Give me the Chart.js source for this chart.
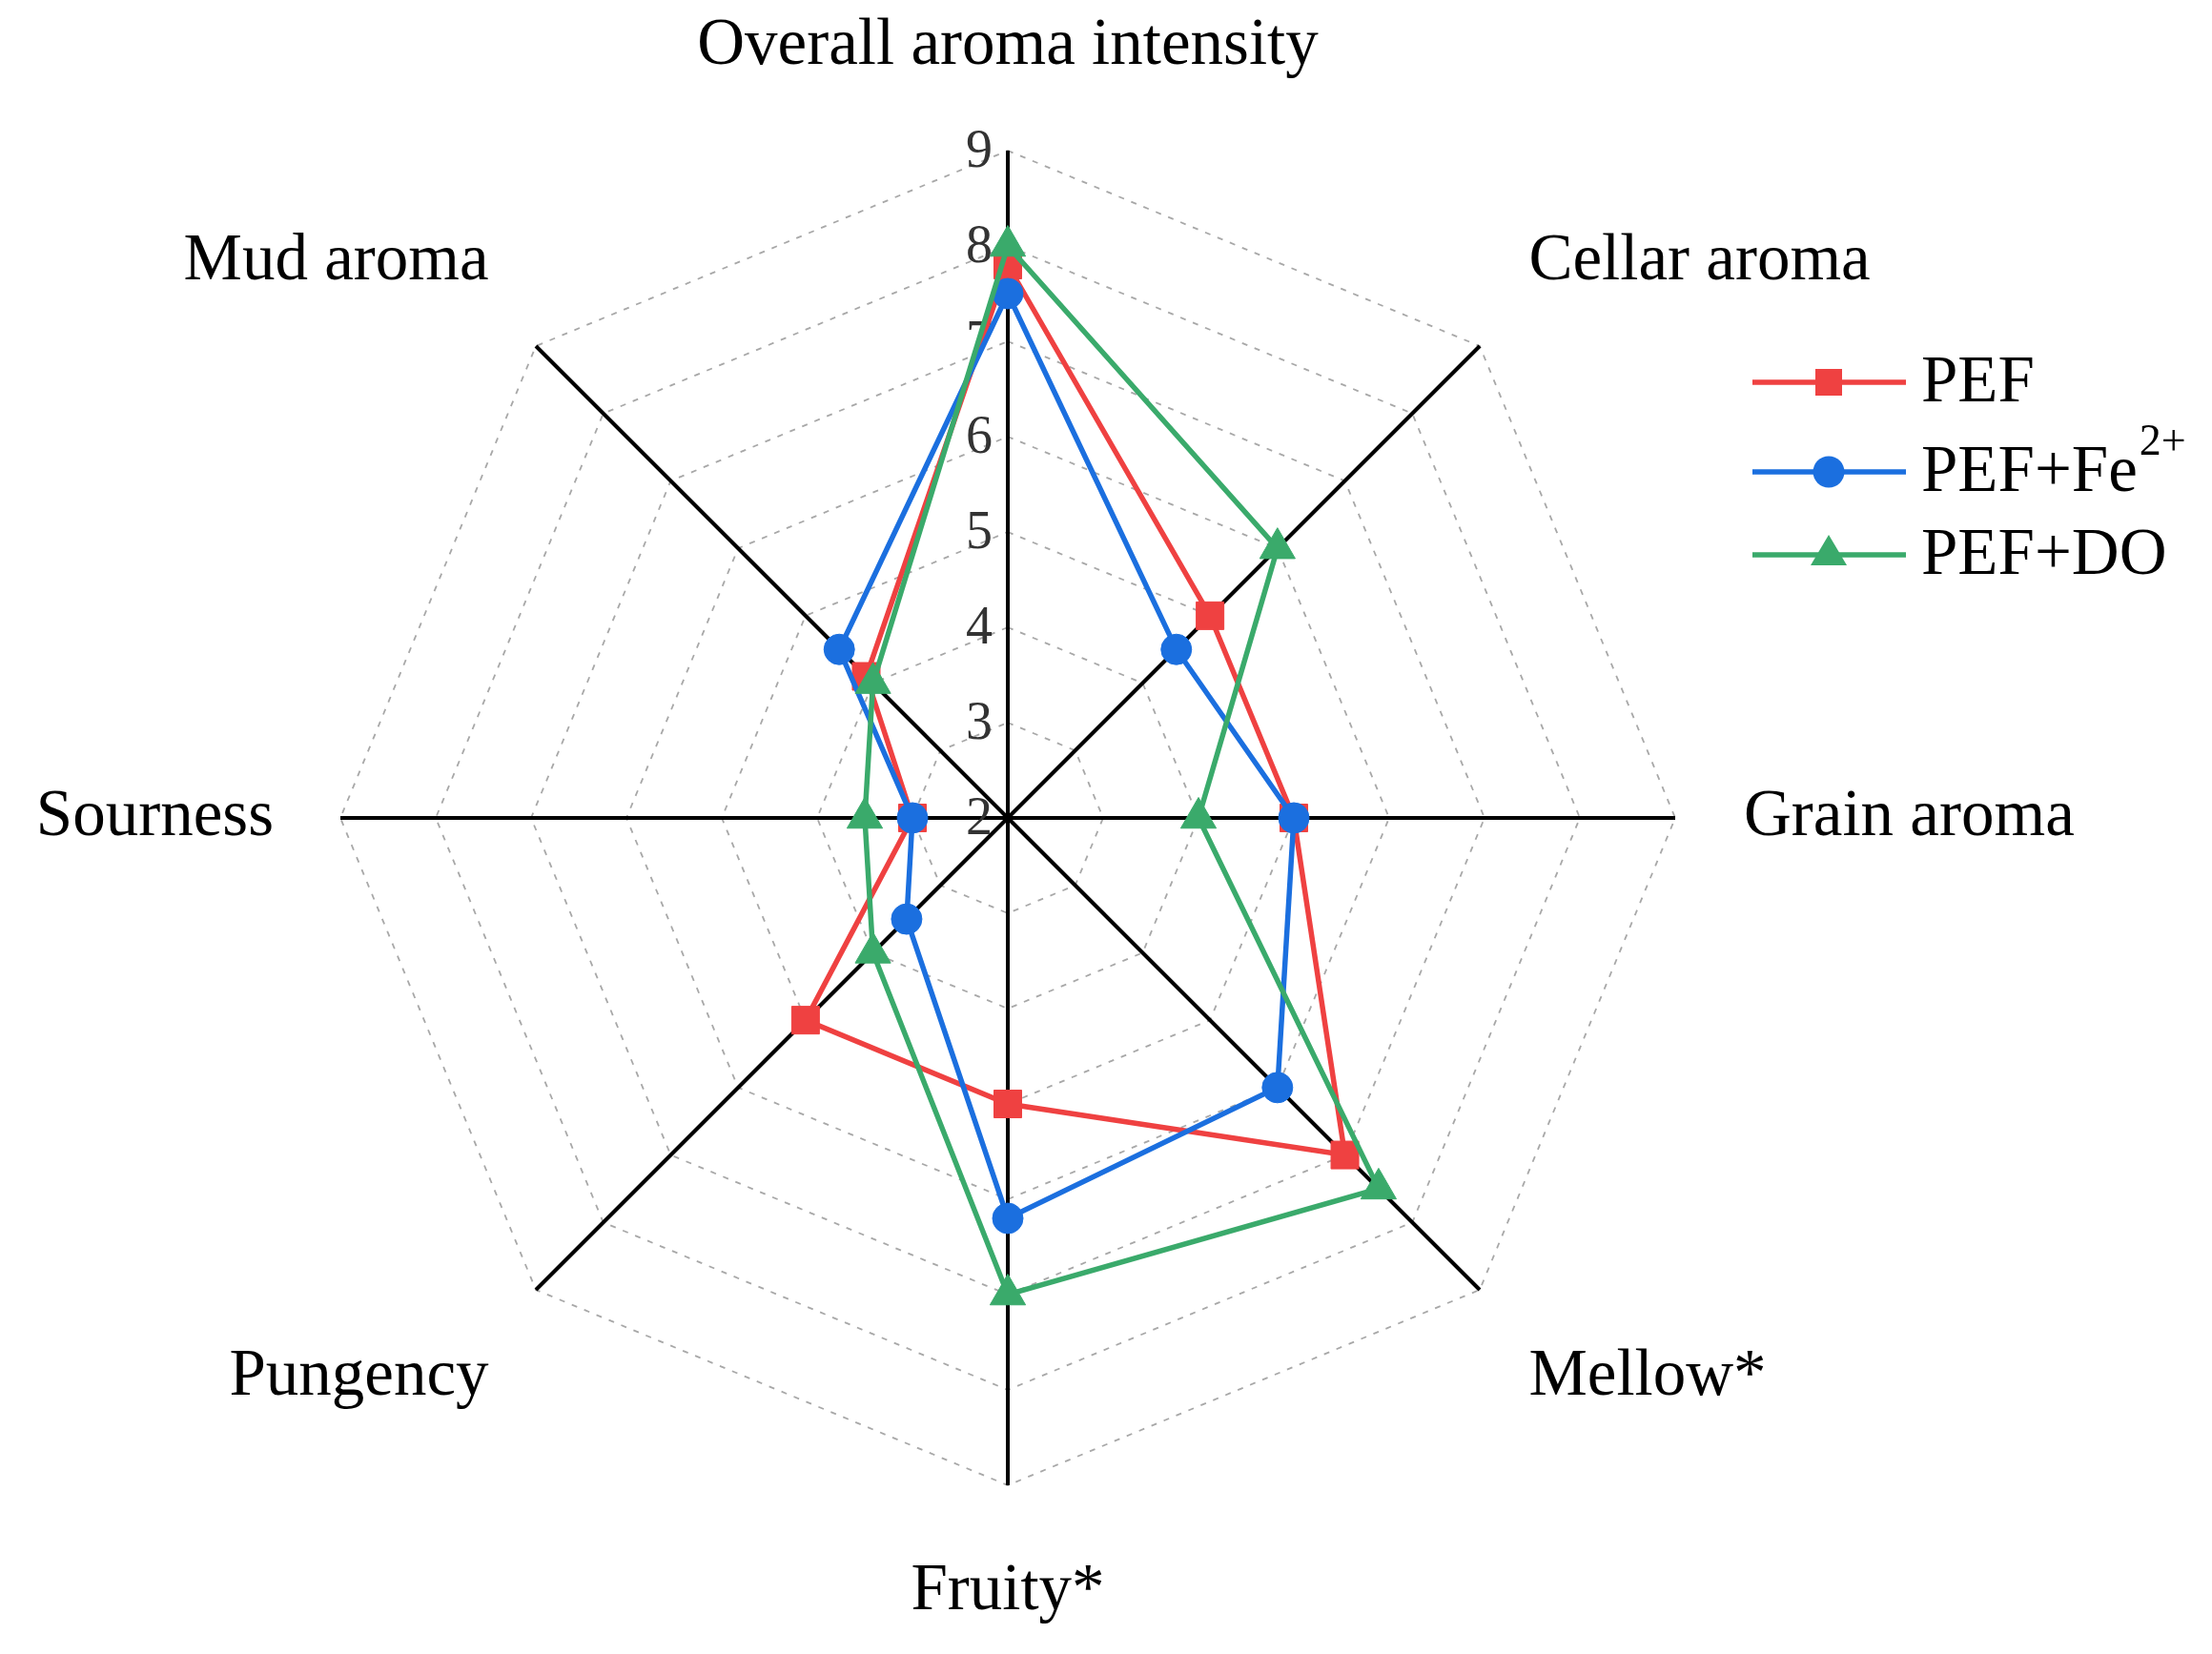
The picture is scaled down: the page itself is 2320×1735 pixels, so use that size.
<!DOCTYPE html>
<html lang="en">
<head>
  <meta charset="UTF-8" />
  <title>Aroma radar</title>
  <script src="https://cdn.jsdelivr.net/npm/chart.js@4"></script>
  <style>
    html, body { margin: 0; padding: 0; background: #fff; }
    .wrap { width: 2320px; height: 1735px; position: relative; }
  </style>
</head>
<body>
  <div class="wrap"><canvas id="radar"></canvas></div>
  <script>
    // attributes, clockwise from the top
    const attributes = ["Overall aroma intensity", "Cellar aroma", "Grain aroma", "Mellow*",
                        "Fruity*", "Pungency", "Sourness", "Mud aroma"];
    const pef     = [7.8, 5.0, 5.0, 7.0, 5.0, 5.0, 3.0, 4.1];
    const pefFe   = [7.5, 4.5, 5.0, 6.0, 6.2, 3.5, 3.0, 4.5];
    const pefDO   = [8.0, 6.0, 4.0, 7.5, 7.0, 4.0, 3.5, 4.0];
    const tickValues = [2, 3, 4, 5, 6, 7, 8, 9];

    const RED = "#ef4141", BLUE = "#1b6fdf", GREEN = "#3aaa6b";
    const SERIF = "'Liberation Serif', 'Times New Roman', serif";

    // numbers drawn left of the vertical axis
    const tickPlugin = {
      id: "tickText",
      beforeDatasetsDraw(chart) {
        const s = chart.scales.r, ctx = chart.ctx;
        ctx.save();
        ctx.font = "56px " + SERIF;
        ctx.fillStyle = "#333";
        ctx.textAlign = "right";
        ctx.textBaseline = "middle";
        tickValues.forEach(v => {
          const p = s.getPointPositionForValue(0, v);
          ctx.fillText(String(v), p.x - 16, p.y + 2);
        });
        ctx.restore();
      }
    };

    // attribute names around the web
    const labelPlugin = {
      id: "attrText",
      afterDraw(chart) {
        const s = chart.scales.r, ctx = chart.ctx;
        ctx.save();
        ctx.font = "69px " + SERIF;
        ctx.fillStyle = "#000";
        ctx.textBaseline = "middle";
        attributes.forEach((name, i) => {
          const p = s.getPointPosition(i, s.drawingArea + 70);
          let dy = 0;
          if (i === 0 || i === 1 || i === 7) dy = -39;
          if (i === 3 || i === 4 || i === 5) dy = 42;
          ctx.textAlign = (i === 0 || i === 4) ? "center" : (i < 4 ? "left" : "right");
          ctx.fillText(name, p.x + (i > 0 && i < 4 ? 2 : 0), p.y + dy);
        });
        ctx.restore();
      }
    };

    function marker(ctx, style, x, y, color) {
      ctx.fillStyle = color;
      ctx.beginPath();
      if (style === "rect") {
        ctx.rect(x - 14, y - 14, 28, 28);
      } else if (style === "circle") {
        ctx.arc(x, y, 16.5, 0, Math.PI * 2);
      } else {
        ctx.moveTo(x, y - 21);
        ctx.lineTo(x + 19, y + 11);
        ctx.lineTo(x - 19, y + 11);
        ctx.closePath();
      }
      ctx.fill();
    }

    const legendPlugin = {
      id: "legendBox",
      afterDraw(chart) {
        const ctx = chart.ctx;
        const rows = [
          { y: 401, color: RED, style: "rect", text: "PEF" },
          { y: 495, color: BLUE, style: "circle", text: "PEF+Fe", sup: "2+" },
          { y: 582, color: GREEN, style: "triangle", text: "PEF+DO" }
        ];
        ctx.save();
        rows.forEach(r => {
          ctx.strokeStyle = r.color;
          ctx.lineWidth = 5.5;
          ctx.beginPath();
          ctx.moveTo(1838, r.y);
          ctx.lineTo(1999, r.y);
          ctx.stroke();
          marker(ctx, r.style, 1918, r.y, r.color);
          ctx.fillStyle = "#000";
          ctx.font = "69px " + SERIF;
          ctx.textAlign = "left";
          ctx.textBaseline = "middle";
          ctx.fillText(r.text, 2015, r.y + 2);
          if (r.sup) {
            const w = ctx.measureText(r.text).width;
            ctx.font = "46px " + SERIF;
            ctx.fillText(r.sup, 2015 + w + 2, r.y - 30);
          }
        });
        ctx.restore();
      }
    };

    function series(label, data, color, style, radius, order) {
      return {
        label, data, order,
        borderColor: color,
        backgroundColor: color,
        borderWidth: 5.5,
        fill: false,
        pointStyle: style,
        pointRadius: radius,
        pointHoverRadius: radius,
        pointBackgroundColor: color,
        pointBorderColor: color,
        pointBorderWidth: 1
      };
    }

    new Chart(document.getElementById("radar"), {
      type: "radar",
      data: {
        labels: attributes,
        datasets: [
          series("PEF", pef, RED, "rect", 20.5, 3),
          series("PEF+Fe2+", pefFe, BLUE, "circle", 16, 2),
          series("PEF+DO", pefDO, GREEN, "triangle", 21.5, 1)
        ]
      },
      options: {
        responsive: true,
        maintainAspectRatio: false,
        animation: false,
        devicePixelRatio: 1,
        layout: { padding: { left: 357, right: 563, top: 158, bottom: 177 } },
        plugins: { legend: { display: false }, tooltip: { enabled: false } },
        scales: {
          r: {
            min: 2,
            max: 9,
            ticks: { stepSize: 1, display: false },
            pointLabels: { display: false },
            grid: { circular: false, color: "#a8a8a8", lineWidth: 1.8 },
            border: { dash: [6, 8] },
            angleLines: { color: "#000", lineWidth: 4 }
          }
        }
      },
      plugins: [tickPlugin, labelPlugin, legendPlugin]
    });
  </script>
</body>
</html>
